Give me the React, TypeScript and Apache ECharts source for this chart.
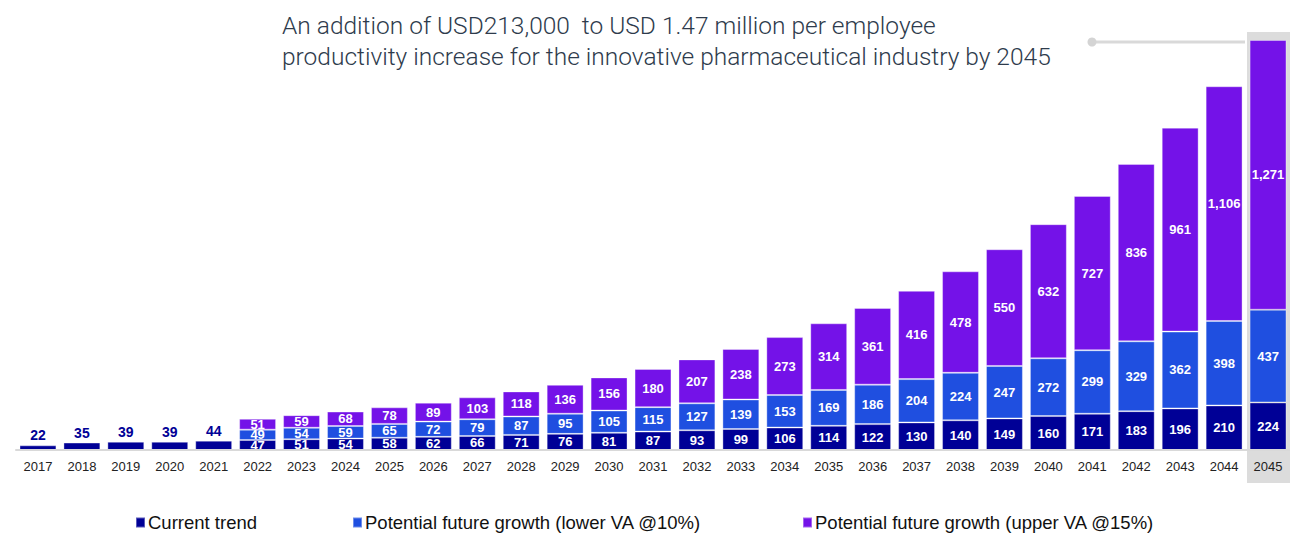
import React, { useEffect, useRef } from "react";
import * as echarts from "echarts";

const years = ["2017","2018","2019","2020","2021","2022","2023","2024","2025","2026","2027","2028","2029","2030","2031","2032","2033","2034","2035","2036","2037","2038","2039","2040","2041","2042","2043","2044","2045"];
const currentTrend = [22,35,39,39,44,47,51,54,58,62,66,71,76,81,87,93,99,106,114,122,130,140,149,160,171,183,196,210,224];
const lowerVA = [null,null,null,null,null,49,54,59,65,72,79,87,95,105,115,127,139,153,169,186,204,224,247,272,299,329,362,398,437];
const upperVA = [null,null,null,null,null,51,59,68,78,89,103,118,136,156,180,207,238,273,314,361,416,478,550,632,727,836,961,1106,1271];
const seriesNames = ["Current trend", "Potential future growth (lower VA @10%)", "Potential future growth (upper VA @15%)"];
const titleLines = ["An addition of USD213,000  to USD 1.47 million per employee", "productivity increase for the innovative pharmaceutical industry by 2045"];

const NAVY = "#000096";
const BLUE = "#1f4fe0";
const PURPLE = "#7412e8";
const legendLefts = [130, 347, 797];

export default function App() {
  const ref = useRef<HTMLDivElement>(null);
  useEffect(() => {
    document.body.style.margin = "0";
    const chart = echarts.init(ref.current!, undefined, { renderer: "svg" });
    const fmt = (p: any) => (p.value == null ? "" : Number(p.value).toLocaleString("en-US"));
    const insideLabel = {
      show: true,
      position: "inside",
      color: "#ffffff",
      fontFamily: "Liberation Sans",
      fontWeight: "bold",
      fontSize: 13,
      formatter: fmt,
    };
    const border = { borderColor: "rgba(255,255,255,0.35)", borderWidth: 1 };
    const currentData = currentTrend.map((v, i) =>
      lowerVA[i] == null
        ? {
            value: v,
            label: {
              show: true,
              position: "top",
              color: NAVY,
              fontFamily: "Liberation Sans",
              fontWeight: "bold",
              fontSize: 14,
              distance: 3,
            },
          }
        : { value: v }
    );
    chart.setOption({
      animation: false,
      grid: { left: 16, right: 0, top: 40, bottom: 86, containLabel: false },
      xAxis: {
        type: "category",
        data: years,
        axisLine: { show: true, lineStyle: { color: "#d9d9d9", width: 2 } },
        axisTick: { show: false },
        axisLabel: { color: "#222222", fontFamily: "Liberation Sans", fontSize: 13, margin: 10 },
        z: 5,
      },
      yAxis: { type: "value", min: 0, max: 1932, show: false, splitLine: { show: false } },
      legend: seriesNames.map((name, i) => ({
        bottom: -1,
        left: legendLefts[i],
        icon: "rect",
        itemWidth: 9,
        itemHeight: 10,
        itemGap: 0,
        textStyle: { fontFamily: "Liberation Sans", fontSize: 18.5, color: "#111111", padding: [0, 0, 0, -2] },
        data: [name],
      })),
      graphic: [
        { type: "rect", z: -10, shape: { x: 1247, y: 32, width: 43, height: 451 }, style: { fill: "#dcdcdc" } },
        { type: "line", shape: { x1: 1092, y1: 42, x2: 1245, y2: 42 }, style: { stroke: "#d9d9d9", lineWidth: 3 } },
        { type: "circle", shape: { cx: 1092, cy: 42, r: 4.5 }, style: { fill: "#d4d4d4" } },
        {
          type: "text",
          left: 282,
          top: 10,
          style: {
            text: titleLines.join("\n"),
            fontFamily: "Roboto",
            fontWeight: 300,
            fontSize: 24.5,
            lineHeight: 31,
            fill: "#2e3b4c",
          },
        },
      ],
      series: [
        {
          name: seriesNames[0],
          type: "bar",
          stack: "total",
          barCategoryGap: "16%",
          data: currentData,
          itemStyle: { color: NAVY, ...border },
          label: insideLabel,
        },
        {
          name: seriesNames[1],
          type: "bar",
          stack: "total",
          data: lowerVA,
          itemStyle: { color: BLUE, ...border },
          label: insideLabel,
        },
        {
          name: seriesNames[2],
          type: "bar",
          stack: "total",
          data: upperVA,
          itemStyle: { color: PURPLE, ...border },
          label: insideLabel,
        },
      ],
    });
    return () => chart.dispose();
  }, []);
  return <div ref={ref} style={{ width: 1290, height: 536 }} />;
}
